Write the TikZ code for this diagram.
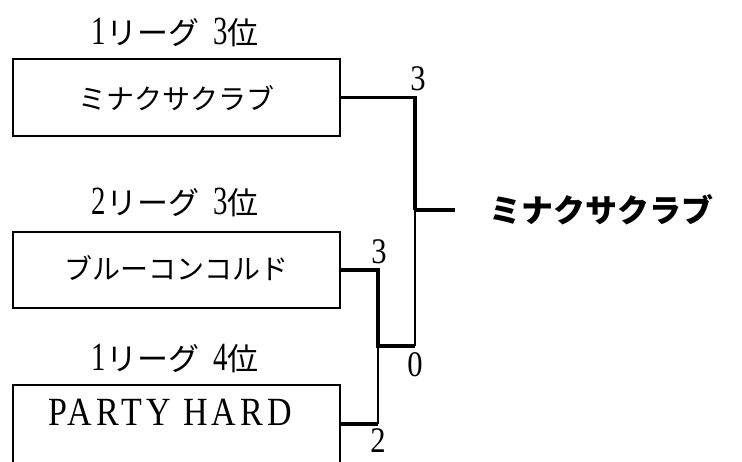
\documentclass[tikz,border=0pt]{standalone}
\usepackage{fontspec}
\usepackage{graphicx}
\setmainfont{Liberation Serif}
\newfontfamily\jp{Noto Sans CJK JP}
\newfontfamily\spaced[LetterSpace=12]{Liberation Serif}
\newcommand{\cnd}[1]{\scalebox{0.85}[1]{#1}}
\newcommand{\hd}[1]{{\fontsize{40}{44}\selectfont\scalebox{0.72}[1]{#1}}}
\tikzset{
  team/.style={draw=black, line width=1.6pt, minimum width=327pt, inner sep=0pt},
  heading/.style={inner sep=0pt, font=\fontsize{31}{34}\selectfont},
  teamtext/.style={inner sep=0pt, font=\jp\fontsize{28}{32}\selectfont},
  score/.style={inner sep=0pt, font=\fontsize{36}{40}\selectfont},
  win/.style={line width=3.8pt},
  lose/.style={line width=1.8pt},
}
\begin{document}
\begin{tikzpicture}[x=1pt,y=-1pt]
\useasboundingbox (0,0) rectangle (742,461);
% headings
\node[heading] (h1) at (175,32) {\hd{1}{\jp リーグ}\hspace{14pt}\hd{3}{\jp 位}};
\node[heading] (h2) at (175,202) {\hd{2}{\jp リーグ}\hspace{14pt}\hd{3}{\jp 位}};
\node[heading] (h3) at (175,358) {\hd{1}{\jp リーグ}\hspace{14pt}\hd{4}{\jp 位}};
% team boxes
\node[team, minimum height=77pt] (t1) at (176.5,97.5) {};
\node[team, minimum height=76pt] (t2) at (176.5,270) {};
\node[team, minimum height=78pt] (t3) at (176.5,424) {};
\node[teamtext] (n1) at (176.5,98) {ミナクサクラブ};
\node[teamtext] (n2) at (176.5,268) {ブルーコンコルド};
\node[inner sep=0pt, font=\spaced\fontsize{40}{44}\selectfont] (n3) at (170,412) {\cnd{PARTY HARD}};
% junction coordinates
\coordinate (j1) at (415,97.5);
\coordinate (j2) at (378,270);
\coordinate (m1) at (378,346);
\coordinate (m2) at (415,346);
\coordinate (j3) at (378,424);
\coordinate (f) at (415,210);
\coordinate (fe) at (455,210);
% connectors
\draw[win] (t1.east) -- (j1) -- (f);
\draw[win] (f) -- (fe);
\draw[lose] (f) -- (m2);
\draw[win] (t2.east) -- (j2) -- (m1) -- (m2);
\draw[lose] (m1) -- (j3);
\draw[win] (t3.east) -- (j3);
% scores
\node[score] (s1) at (418,79) {\cnd{3}};
\node[score] (s2) at (379,252) {\cnd{3}};
\node[score] (s3) at (415,365) {\cnd{0}};
\node[score] (s4) at (378,441) {\cnd{2}};
% winner
\node[inner sep=0pt, font=\jp\bfseries\fontsize{32}{36}\selectfont] (w) at (601,210) {ミナクサクラブ};
\end{tikzpicture}
\end{document}
